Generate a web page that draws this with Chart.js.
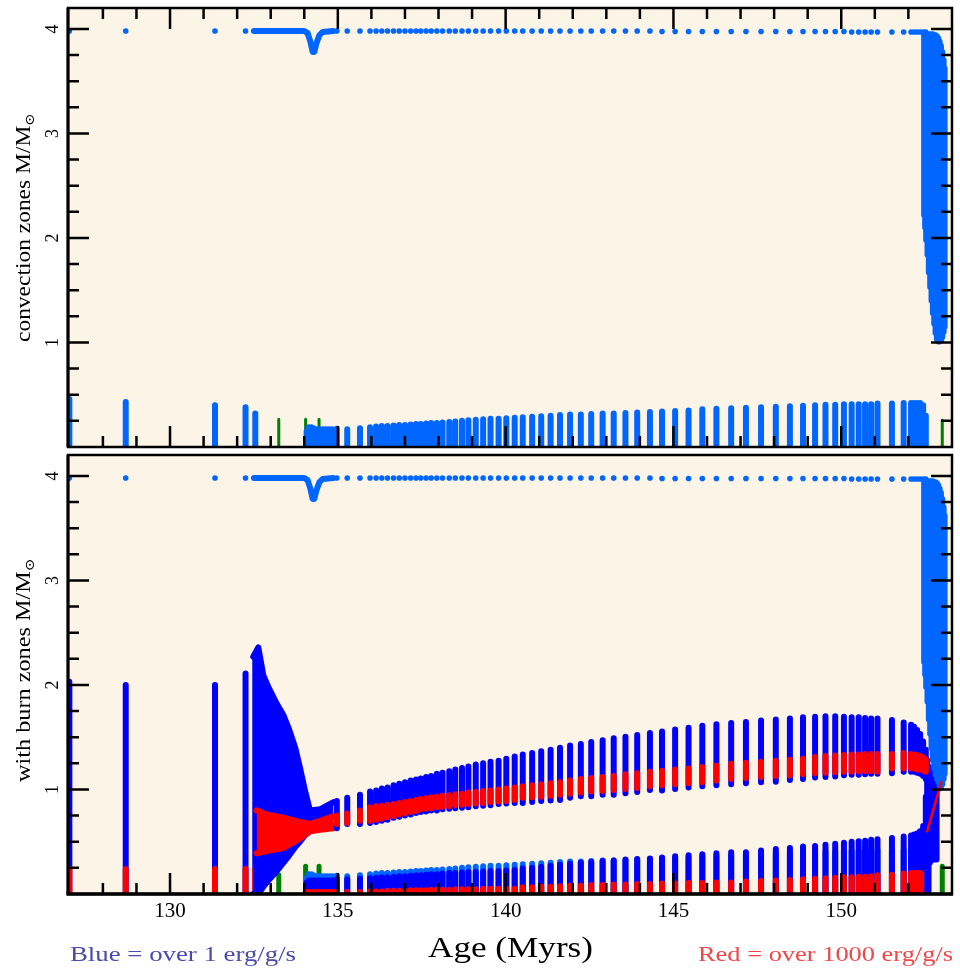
<!DOCTYPE html>
<html>
<head>
<meta charset="utf-8">
<script src="https://cdn.jsdelivr.net/npm/chart.js@4.4.1/dist/chart.umd.min.js"></script>
<style>
  html, body { margin: 0; padding: 0; background: #fff; }
  #wrap { position: relative; width: 960px; height: 973px; }
  #wrap canvas { position: absolute; left: 0; }
  #convChart { top: 0; }
  #burnChart { top: 451px; }
</style>
</head>
<body>
<div id="wrap">
  <canvas id="convChart" width="960" height="451"></canvas>
  <canvas id="burnChart" width="960" height="522"></canvas>
</div>
<script>
const LB = '#0066ff', DB = '#0000ff', RD = '#ff0000', GR = '#008000', BG = '#fcf4e6';
const X_MIN = 126.96, X_MAX = 153.3, Y_MAX = 4.2;

// isolated early flashes (age in Myrs, masses in Msun)
const earlyAge  = [127.0, 128.68, 131.34, 132.25, 132.54];
const earlyConv = [0.46, 0.43, 0.40, 0.38, 0.32];
const earlyBurn = [2.03, 2.00, 2.00, 2.11, 2.27];
const earlyRed  = [0.24, 0.24, 0.24, 0.24, 0.24];
const earlySurf = [3.98, 3.98, 3.98, 3.98, 3.98];

// thermal pulses
const pulseAge = [134.97,135.28,135.66,135.96,136.14,136.31,136.48,136.66,136.83,137.00,
  137.17,137.33,137.47,137.63,137.78,137.95,138.12,138.32,138.50,138.70,
  138.89,139.11,139.33,139.55,139.79,140.02,140.27,140.51,140.79,141.06,
  141.34,141.62,141.92,142.24,142.55,142.89,143.22,143.57,143.92,144.30,
  144.66,145.05,145.45,145.86,146.28,146.72,147.16,147.61,148.05,148.47,
  148.86,149.22,149.53,149.82,150.08,150.31,150.52,150.71,150.89,151.08,
  151.51,151.86,152.08,152.17,152.26,152.35,152.44,152.52];
const pulseSurf = [3.98,3.98,3.98,3.98,3.98,3.98,3.98,3.98,3.98,3.98,
  3.98,3.98,3.98,3.98,3.98,3.98,3.98,3.98,3.98,3.98,
  3.98,3.98,3.98,3.98,3.98,3.98,3.98,3.98,3.98,3.98,
  3.98,3.98,3.98,3.98,3.98,3.98,3.98,3.98,3.98,3.98,
  3.975,3.975,3.975,3.975,3.975,3.975,3.975,3.975,3.975,3.975,
  3.975,3.975,3.975,3.975,3.975,3.97,3.97,3.97,3.97,3.97,
  3.97,3.97,3.97,3.97,3.97,3.97,3.97,3.97];
const upHi = [0.89,0.92,0.95,0.98,0.99,1.01,1.02,1.04,1.055,1.07,
  1.085,1.095,1.105,1.12,1.13,1.15,1.16,1.175,1.19,1.205,
  1.22,1.24,1.25,1.265,1.275,1.295,1.315,1.335,1.35,1.365,
  1.38,1.40,1.42,1.435,1.455,1.47,1.49,1.505,1.52,1.54,
  1.555,1.575,1.59,1.61,1.625,1.635,1.645,1.66,1.67,1.68,
  1.69,1.695,1.70,1.70,1.695,1.69,1.69,1.685,1.68,1.68,
  1.665,1.64,1.62,1.60,1.57,1.53,1.46,1.38];
const upLo = [0.63,0.67,0.67,0.68,0.69,0.70,0.71,0.73,0.74,0.75,
  0.76,0.775,0.785,0.79,0.80,0.80,0.81,0.815,0.82,0.825,
  0.83,0.84,0.845,0.85,0.86,0.865,0.87,0.87,0.88,0.89,
  0.895,0.90,0.92,0.935,0.935,0.95,0.95,0.965,0.975,0.995,
  0.99,1.005,1.02,1.03,1.04,1.05,1.06,1.07,1.075,1.09,
  1.10,1.115,1.12,1.125,1.135,1.14,1.14,1.145,1.15,1.15,
  1.155,1.17,1.17,1.17,1.16,1.15,1.13,1.10];
const redHi = [0.75,0.77,0.80,0.83,0.84,0.845,0.855,0.86,0.87,0.88,
  0.89,0.90,0.91,0.915,0.925,0.93,0.94,0.945,0.955,0.96,
  0.97,0.975,0.985,0.99,1.00,1.01,1.02,1.03,1.04,1.05,
  1.06,1.07,1.085,1.10,1.11,1.12,1.13,1.145,1.155,1.17,
  1.18,1.19,1.20,1.215,1.23,1.245,1.255,1.265,1.275,1.285,
  1.295,1.31,1.32,1.325,1.33,1.335,1.335,1.34,1.34,1.34,
  1.34,1.35,1.34,1.33,1.33,1.32,1.31,1.29];
const redLo = [0.67,0.68,0.70,0.70,0.71,0.72,0.735,0.745,0.76,0.77,
  0.785,0.795,0.81,0.815,0.82,0.83,0.835,0.84,0.85,0.855,
  0.86,0.865,0.87,0.88,0.885,0.89,0.90,0.92,0.925,0.93,
  0.94,0.95,0.96,0.97,0.98,0.985,0.995,1.005,1.015,1.03,
  1.04,1.05,1.06,1.07,1.085,1.10,1.11,1.12,1.13,1.135,
  1.145,1.155,1.16,1.165,1.17,1.17,1.175,1.175,1.175,1.17,
  1.20,1.20,1.20,1.20,1.19,1.19,1.18,1.17];
const lowConv = [0.175,0.17,0.18,0.19,0.195,0.20,0.20,0.205,0.21,0.21,
  0.215,0.22,0.22,0.225,0.23,0.23,0.235,0.24,0.245,0.25,
  0.255,0.26,0.265,0.27,0.27,0.275,0.28,0.285,0.29,0.295,
  0.30,0.305,0.31,0.31,0.315,0.32,0.32,0.325,0.33,0.335,
  0.34,0.345,0.35,0.36,0.365,0.37,0.375,0.38,0.385,0.39,
  0.395,0.40,0.405,0.405,0.41,0.41,0.41,0.41,0.41,0.415,
  0.415,0.42,0.42,0.42,0.42,0.42,0.40,0.30];
const lowBlue = [0.14,0.14,0.145,0.15,0.155,0.16,0.16,0.165,0.17,0.17,
  0.175,0.18,0.18,0.185,0.19,0.19,0.195,0.20,0.20,0.205,
  0.21,0.21,0.215,0.22,0.22,0.225,0.23,0.245,0.25,0.26,
  0.27,0.28,0.29,0.30,0.305,0.315,0.32,0.33,0.335,0.34,
  0.35,0.36,0.37,0.38,0.39,0.40,0.40,0.415,0.43,0.44,
  0.455,0.46,0.47,0.48,0.49,0.50,0.505,0.51,0.52,0.525,
  0.535,0.55,0.56,0.57,0.58,0.60,0.65,0.93];
const lowRed = [0.02,0.02,0.02,0.025,0.025,0.025,0.03,0.03,0.03,0.03,
  0.035,0.035,0.035,0.035,0.04,0.04,0.04,0.04,0.045,0.045,
  0.045,0.045,0.05,0.05,0.05,0.05,0.05,0.065,0.065,0.07,
  0.07,0.075,0.08,0.08,0.085,0.085,0.09,0.09,0.095,0.095,
  0.10,0.10,0.105,0.105,0.11,0.11,0.12,0.125,0.13,0.135,
  0.14,0.145,0.15,0.155,0.16,0.16,0.165,0.165,0.17,0.18,
  0.185,0.195,0.20,0.20,0.20,0.20,0.19,0.18];

// rapid pulse sequence 132.5-134.9 (envelope of the burning region)
const denseAge = [132.48,132.63,132.78,132.93,133.18,133.38,133.53,133.73,133.87,134.02,134.17,134.47,134.87];
const denseHi  = [2.27,2.36,2.09,1.98,1.82,1.71,1.59,1.40,1.21,0.99,0.80,0.81,0.88];
const denseLo  = [0.00,0.00,0.07,0.13,0.22,0.30,0.36,0.45,0.50,0.56,0.60,0.63,0.65];
const redBandAge = [132.58,132.88,133.38,133.87,134.17,134.47,134.87];
const redBandHi  = [0.80,0.76,0.73,0.69,0.67,0.70,0.745];
const redBandLo  = [0.39,0.41,0.44,0.53,0.60,0.615,0.63];
const tinyAge  = [134.07,134.14,134.21,134.28,134.35,134.42,134.49,134.56,134.63,134.70,134.77,134.84];
const tinyConv = [0.15,0.19,0.19,0.18,0.17,0.17,0.17,0.17,0.17,0.17,0.17,0.17];
const tinyBlue = [0.11,0.13,0.13,0.13,0.13,0.13,0.13,0.13,0.13,0.13,0.13,0.13];
const tinyRed  = [0.02,0.02,0.02,0.02,0.02,0.02,0.02,0.02,0.02,0.02,0.02,0.02];

// surface during the dense sequence
const surfLineAge  = [132.50,133.00,133.50,134.00,134.10,134.18,134.25,134.30,134.36,134.45,134.55,134.86];
const surfLineMass = [3.98,3.98,3.98,3.98,3.96,3.88,3.78,3.78,3.86,3.94,3.97,3.98];

// green (other) zones
const greenAge  = [133.24, 134.04, 134.44, 153.01];
const greenConv = [0.265, 0.265, 0.265, 0.255];
const greenBurn = [0.185, 0.265, 0.265, 0.265];

// deep convective envelope at the end
const envAge  = [152.47,152.50,152.53,152.57,152.61,152.65,152.69,152.73,152.77,152.81,152.85,152.89,152.93,152.97,153.01,153.05,153.08];
const envBase = [2.22,2.10,1.98,1.84,1.67,1.53,1.40,1.28,1.18,1.09,1.03,1.01,1.01,1.02,1.05,1.10,1.15];
const envTop  = [3.95,3.95,3.95,3.95,3.95,3.95,3.95,3.95,3.94,3.94,3.93,3.91,3.88,3.84,3.78,3.70,3.62];

// final burning shell merge
const endAge = [152.56,152.60,152.64,152.68,152.72,152.76,152.80,152.84];
const endLo  = [0.03,0.03,0.30,0.32,0.33,0.33,0.33,0.33];
const endHi  = [1.28,1.22,1.16,1.10,1.06,1.03,1.00,0.98];
const redTailAge = [152.56, 152.98];
const redTailM   = [0.60, 1.07];

function bars(ages, lo, hi) {
  const pts = [];
  ages.forEach((a, i) => {
    const l = Array.isArray(lo) ? lo[i] : lo;
    const h = Array.isArray(hi) ? hi[i] : hi;
    pts.push({x: a, y: l}, {x: a, y: h}, {x: a, y: null});
  });
  return pts;
}
const curve = (ages, ys) => ages.map((a, i) => ({x: a, y: ys[i]}));

function seg(data, color, w) {
  return {type: 'line', data, borderColor: color, backgroundColor: color, borderWidth: w,
    borderCapStyle: 'round', borderJoinStyle: 'round', pointRadius: 0, fill: false,
    spanGaps: false, tension: 0, clip: 0};
}
function dots(data, color, r) {
  return {type: 'line', data, showLine: false, pointRadius: r, pointBackgroundColor: color,
    pointBorderWidth: 0, clip: 0};
}
function band(ages, hi, lo, color, loAges) {
  const top = seg(curve(ages, hi), color, 6);
  top.fill = '+1';
  top.backgroundColor = color;
  const bot = seg(curve(loAges || ages, lo), color, 6);
  return [top, bot];
}
// first in list is drawn first (underneath)
function ordered(list) {
  return list.map((d, i) => Object.assign(d, {order: list.length - i}));
}

function fitText(ctx, text, x, y, width, font, color) {
  ctx.save();
  ctx.font = font;
  ctx.fillStyle = color;
  ctx.textBaseline = 'alphabetic';
  ctx.textAlign = 'left';
  const w = ctx.measureText(text).width;
  ctx.translate(x, y);
  ctx.scale(width / w, 1);
  ctx.fillText(text, 0, 0);
  ctx.restore();
}

function yTitle(ctx, text, cx, cy, length) {
  ctx.save();
  ctx.fillStyle = '#000';
  ctx.textBaseline = 'alphabetic';
  ctx.textAlign = 'left';
  ctx.font = '20px "Liberation Serif", serif';
  const w1 = ctx.measureText(text).width;
  ctx.font = '13px "DejaVu Serif", serif';
  const w2 = ctx.measureText('\u2299').width;
  const s = length / (w1 + w2);
  ctx.translate(cx, cy);
  ctx.rotate(-Math.PI / 2);
  ctx.scale(s, 1);
  ctx.font = '20px "Liberation Serif", serif';
  ctx.fillText(text, -(w1 + w2) / 2, 0);
  ctx.font = '13px "DejaVu Serif", serif';
  ctx.fillText('\u2299', -(w1 + w2) / 2 + w1, 4);
  ctx.restore();
}

const isInt = v => Math.abs(v - Math.round(v)) < 1e-6;

const panelFrame = {
  id: 'panelFrame',
  beforeDraw(chart) {
    const {ctx, chartArea: a} = chart;
    ctx.save();
    ctx.fillStyle = BG;
    ctx.fillRect(a.left, a.top, a.right - a.left, a.bottom - a.top);
    ctx.restore();
  },
  afterDatasetsDraw(chart, args, o) {
    const {ctx, chartArea: a, scales: {x, y}} = chart;
    ctx.save();
    ctx.strokeStyle = '#000';
    ctx.lineWidth = 2.5;
    ctx.beginPath();
    for (const t of x.ticks) {
      if (!isInt(t.value)) continue;
      const px = x.getPixelForValue(t.value);
      const len = Math.round(t.value) % 5 === 0 ? 21 : 11;
      ctx.moveTo(px, a.bottom); ctx.lineTo(px, a.bottom - len);
      if (o.topTicks) { ctx.moveTo(px, a.top); ctx.lineTo(px, a.top + len); }
    }
    for (const t of y.ticks) {
      const v = t.value;
      if (v <= 0 || v > 4.01 || !isInt(v * 4)) continue;
      const py = y.getPixelForValue(v);
      const len = isInt(v) ? 21 : 11;
      ctx.moveTo(a.left, py); ctx.lineTo(a.left + len, py);
      ctx.moveTo(a.right, py); ctx.lineTo(a.right - len, py);
    }
    ctx.stroke();
    ctx.lineWidth = 2.5;
    ctx.strokeRect(a.left, a.top, a.right - a.left, a.bottom - a.top);
    ctx.lineWidth = 3;
    ctx.beginPath(); ctx.moveTo(a.left, a.top); ctx.lineTo(a.left, a.bottom); ctx.stroke();
    if (o.thickBottom) {
      ctx.lineWidth = 3.5;
      ctx.beginPath(); ctx.moveTo(a.left - 1.5, a.bottom); ctx.lineTo(a.right + 1, a.bottom); ctx.stroke();
    }
    // rotated y tick labels
    ctx.fillStyle = '#000';
    ctx.font = '18px "Liberation Serif", serif';
    ctx.textAlign = 'center';
    ctx.textBaseline = 'alphabetic';
    for (const t of y.ticks) {
      const v = t.value;
      if (v <= 0 || !isInt(v)) continue;
      ctx.save();
      ctx.translate(58, y.getPixelForValue(v));
      ctx.rotate(-Math.PI / 2);
      ctx.fillText(String(Math.round(v)), 0, 0);
      ctx.restore();
    }
    ctx.restore();
    yTitle(ctx, o.title, 29.5, o.titleY, o.titleLen);
    if (o.footer) {
      fitText(ctx, 'Blue = over 1 erg/g/s', 70, 510, 226, '21px "Liberation Serif", serif', '#4a4aa8');
      fitText(ctx, 'Age (Myrs)', 428, 505.5, 165, '29px "Liberation Serif", serif', '#000');
      fitText(ctx, 'Red = over 1000 erg/g/s', 698, 510, 255, '21px "Liberation Serif", serif', '#f04646');
    }
  }
};

function baseOptions(showX, extra) {
  const xScale = {
    type: 'linear', min: X_MIN, max: X_MAX, display: showX,
    grid: {display: false, drawTicks: false},
    border: {display: false},
    ticks: {
      stepSize: 1, autoSkip: false, maxRotation: 0, minRotation: 0, padding: 5,
      color: '#000', font: {family: '"Liberation Serif", serif', size: 21},
      callback: v => (isInt(v) && Math.round(v) % 5 === 0) ? String(Math.round(v)) : ''
    }
  };
  if (showX) xScale.afterFit = s => { s.height = 79; };
  return {
    responsive: false,
    animation: false,
    events: [],
    layout: {padding: {top: showX ? 0 : 8, right: 8, left: 0, bottom: 0}},
    plugins: {legend: {display: false}, tooltip: {enabled: false}, panelFrame: extra},
    scales: {
      x: xScale,
      y: {
        type: 'linear', min: 0, max: Y_MAX,
        afterFit: s => { s.width = 68; },
        grid: {display: false, drawTicks: false},
        border: {display: false},
        ticks: {stepSize: 0.25, display: false}
      }
    }
  };
}

const surfDots = curve(earlyAge.slice(0, 4).concat(pulseAge), earlySurf.slice(0, 4).concat(pulseSurf));

const convSets = ordered([
  seg(bars(greenAge, 0, greenConv), GR, 3),
  seg(bars(earlyAge, 0, earlyConv), LB, 6),
  seg(bars(tinyAge, 0, tinyConv), LB, 6),
  seg(bars(pulseAge, 0, lowConv), LB, 6),
  seg(bars(envAge, envBase, envTop), LB, 6),
  seg(curve(surfLineAge, surfLineMass), LB, 6),
  dots(surfDots, LB, 2.8)
]);

const burnSets = ordered([
  seg(bars(greenAge, 0, greenBurn), GR, 5),
  seg(bars(envAge, envBase, envTop), LB, 6),
  seg(curve(surfLineAge, surfLineMass), LB, 6),
  dots(surfDots, LB, 2.8),
  seg(bars(tinyAge, 0, tinyConv), LB, 6),
  seg(bars(pulseAge, 0, lowConv), LB, 6),
  seg(bars(tinyAge, 0, tinyBlue), DB, 6),
  seg(bars(pulseAge, 0, lowBlue), DB, 6),
  seg(bars(tinyAge, 0, tinyRed), RD, 6),
  seg(bars(pulseAge, 0, lowRed), RD, 6),
  seg(bars(earlyAge, 0, earlyBurn), DB, 6),
  seg(bars(earlyAge, 0, earlyRed), RD, 6),
  ...band(denseAge, denseHi, denseLo, DB),
  ...band(redBandAge, redBandHi, redBandLo, RD),
  seg(bars(pulseAge, upLo, upHi), DB, 6),
  seg(bars(endAge, endLo, endHi), DB, 6),
  seg(bars(pulseAge, redLo, redHi), RD, 6),
  seg(curve(redTailAge, redTailM), RD, 2.5)
]);

new Chart(document.getElementById('convChart'), {
  type: 'line',
  data: {datasets: convSets},
  options: baseOptions(false, {topTicks: true, title: 'convection zones M/M', titleY: 227.5, titleLen: 229}),
  plugins: [panelFrame]
});

new Chart(document.getElementById('burnChart'), {
  type: 'line',
  data: {datasets: burnSets},
  options: baseOptions(true, {topTicks: false, thickBottom: true, footer: true, title: 'with burn zones M/M', titleY: 219, titleLen: 224}),
  plugins: [panelFrame]
});
</script>
</body>
</html>
